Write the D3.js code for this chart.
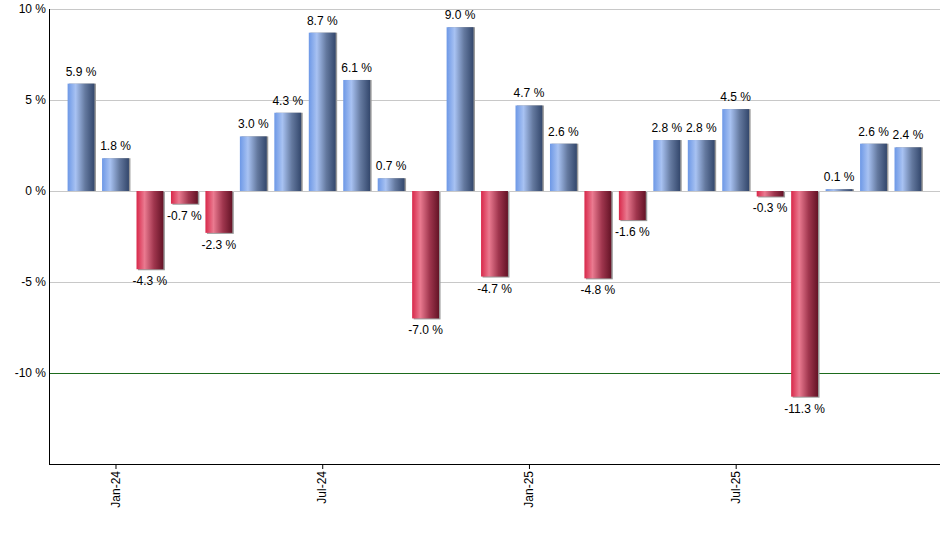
<!DOCTYPE html>
<html>
<head>
<meta charset="utf-8">
<script src="https://cdn.jsdelivr.net/npm/d3@7"></script>
<style>
  body { margin: 0; background: #fff; }
  text { font-family: "Liberation Sans", Arial, sans-serif; }
</style>
</head>
<body>
<svg id="chart" width="940" height="550"></svg>
<script>
// monthly returns, Dec-23 .. Dec-25
var months = ["Dec-23","Jan-24","Feb-24","Mar-24","Apr-24","May-24","Jun-24","Jul-24","Aug-24","Sep-24",
              "Oct-24","Nov-24","Dec-24","Jan-25","Feb-25","Mar-25","Apr-25","May-25","Jun-25","Jul-25",
              "Aug-25","Sep-25","Oct-25","Nov-25","Dec-25"];
var returns = [5.9, 1.8, -4.3, -0.7, -2.3, 3.0, 4.3, 8.7, 6.1, 0.7,
               -7.0, 9.0, -4.7, 4.7, 2.6, -4.8, -1.6, 2.8, 2.8, 4.5,
               -0.3, -11.3, 0.1, 2.6, 2.4];
var yTicks = [10, 5, 0, -5, -10];
var xTickLabels = ["Jan-24", "Jul-24", "Jan-25", "Jul-25"];

var svg = d3.select("#chart");
var margin = {top: 9, right: 0, bottom: 86, left: 49},
    width = 940 - margin.left - margin.right,
    height = 550 - margin.top - margin.bottom;

var x = d3.scaleBand()
          .domain(months)
          .range([0, width])
          .paddingInner(0.22)
          .paddingOuter(0.54);
var y = d3.scaleLinear()
          .domain([-15, 10])
          .range([height, 0]);

// gradients for the bars
var defs = svg.append("defs");
function gradient(id, stops) {
  var g = defs.append("linearGradient").attr("id", id)
      .attr("x1", "0%").attr("x2", "100%").attr("y1", "0%").attr("y2", "0%");
  stops.forEach(function(s) {
    g.append("stop").attr("offset", s[0]).attr("stop-color", s[1]);
  });
}
gradient("gBlue", [["0%", "#6d98e6"], ["30%", "#a8c2f2"], ["65%", "#64799f"], ["100%", "#33476c"]]);
gradient("gRed", [["0%", "#d8284a"], ["30%", "#ea7a90"], ["65%", "#a0364e"], ["100%", "#641326"]]);

var g = svg.append("g")
    .attr("transform", "translate(" + margin.left + "," + margin.top + ")");

// grid lines
g.selectAll(".grid")
    .data(yTicks)
  .enter().append("line")
    .attr("x1", 0).attr("x2", width)
    .attr("y1", function(d) { return Math.round(y(d)) + 0.5; })
    .attr("y2", function(d) { return Math.round(y(d)) + 0.5; })
    .attr("stroke", function(d) { return d === -10 ? "#1d6b1d" : "#c8c8c8"; })
    .attr("stroke-width", 1);

// y labels
g.selectAll(".ylab")
    .data(yTicks)
  .enter().append("text")
    .attr("x", -3)
    .attr("y", function(d) { return y(d); })
    .attr("dy", "0.35em")
    .attr("text-anchor", "end")
    .attr("font-size", 12)
    .attr("fill", "#000")
    .text(function(d) { return d + " %"; });

// bar shadows
g.selectAll(".shadow")
    .data(returns)
  .enter().append("rect")
    .attr("x", function(d, i) { return x(months[i]) + 1.5; })
    .attr("width", x.bandwidth())
    .attr("y", function(d) { return Math.min(y(d), y(0)) + (d < 0 ? 1 : 0); })
    .attr("height", function(d) { return Math.abs(y(d) - y(0)); })
    .attr("fill", "#9a9a9a");

// bars
g.selectAll(".bar")
    .data(returns)
  .enter().append("rect")
    .attr("x", function(d, i) { return x(months[i]); })
    .attr("width", x.bandwidth())
    .attr("y", function(d) { return Math.min(y(d), y(0)); })
    .attr("height", function(d) { return Math.abs(y(d) - y(0)); })
    .attr("fill", function(d) { return d < 0 ? "url(#gRed)" : "url(#gBlue)"; });

// value labels
g.selectAll(".val")
    .data(returns)
  .enter().append("text")
    .attr("x", function(d, i) { return x(months[i]) + x.bandwidth() / 2; })
    .attr("y", function(d) { return d < 0 ? y(d) + 16 : y(d) - 8; })
    .attr("text-anchor", "middle")
    .attr("font-size", 12)
    .attr("fill", "#000")
    .text(function(d) { return d.toFixed(1) + " %"; });

// axes lines
g.append("line")
    .attr("x1", 0.5).attr("x2", 0.5).attr("y1", 0).attr("y2", height)
    .attr("stroke", "#000");
g.append("line")
    .attr("x1", 0).attr("x2", width).attr("y1", height + 0.5).attr("y2", height + 0.5)
    .attr("stroke", "#000");

// x ticks
var xt = g.selectAll(".xt")
    .data(xTickLabels)
  .enter().append("g")
    .attr("transform", function(d) {
      return "translate(" + (x(d) + x.bandwidth() / 2) + "," + height + ")";
    });
xt.append("line")
    .attr("x1", 0.5).attr("x2", 0.5).attr("y1", 0).attr("y2", 5)
    .attr("stroke", "#000");
xt.append("text")
    .attr("transform", "rotate(-90)")
    .attr("x", -7)
    .attr("y", 0)
    .attr("dy", "0.35em")
    .attr("text-anchor", "end")
    .attr("font-size", 12)
    .attr("fill", "#000")
    .text(function(d) { return d; });
</script>
</body>
</html>
